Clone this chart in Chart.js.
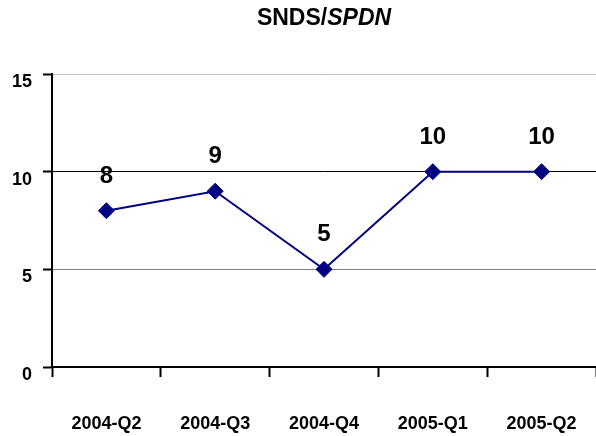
<!DOCTYPE html>
<html>
<head>
<meta charset="utf-8">
<script src="https://cdn.jsdelivr.net/npm/chart.js@4"></script>
<style>
  body { margin: 0; background: #fff; }
  canvas { display: block; }
</style>
</head>
<body>
<canvas id="sndsChart" width="596" height="436"></canvas>
<script>
// datos del gráfico
const categories = ['2004-Q2', '2004-Q3', '2004-Q4', '2005-Q1', '2005-Q2'];
const values = [8, 9, 5, 10, 10];
const yTickValues = [0, 5, 10, 15];

const navy = '#000080';
Chart.defaults.font.family = 'Arial, "Liberation Sans", sans-serif';
Chart.defaults.color = '#000';

// título con la parte "SPDN" en cursiva
const titlePlugin = {
    id: 'titleMixed',
    afterDraw(chart) {
        const ctx = chart.ctx;
        const area = chart.chartArea;
        const a = 'SNDS/', b = 'SPDN';
        ctx.save();
        ctx.fillStyle = '#000';
        ctx.textBaseline = 'alphabetic';
        ctx.font = 'bold 23px Arial, "Liberation Sans", sans-serif';
        const wa = ctx.measureText(a).width;
        ctx.font = 'italic bold 23px Arial, "Liberation Sans", sans-serif';
        const wb = ctx.measureText(b).width;
        const x0 = (area.left + area.right) / 2 - (wa + wb) / 2;
        ctx.textAlign = 'left';
        ctx.font = 'bold 23px Arial, "Liberation Sans", sans-serif';
        ctx.fillText(a, x0, 25);
        ctx.font = 'italic bold 23px Arial, "Liberation Sans", sans-serif';
        ctx.fillText(b, x0 + wa, 25);
        ctx.restore();
    }
};

// etiquetas de valor encima de cada punto
const valueLabels = {
    id: 'valueLabels',
    afterDatasetsDraw(chart) {
        const ctx = chart.ctx;
        const meta = chart.getDatasetMeta(0);
        ctx.save();
        ctx.font = 'bold 24px Arial, "Liberation Sans", sans-serif';
        ctx.fillStyle = '#000';
        ctx.textAlign = 'center';
        ctx.textBaseline = 'alphabetic';
        meta.data.forEach(function(pt, i) {
            ctx.fillText(String(values[i]), pt.x, pt.y - 28);
        });
        ctx.restore();
    }
};

const gridColors = { 5: '#808080', 10: '#000000', 15: '#c0c0c0' };

new Chart(document.getElementById('sndsChart'), {
    type: 'line',
    data: {
        labels: categories,
        datasets: [{
            data: values,
            borderColor: navy,
            borderWidth: 2,
            tension: 0,
            pointStyle: 'rectRot',
            pointRadius: 8,
            pointHoverRadius: 8,
            pointBackgroundColor: navy,
            pointBorderColor: navy,
            pointBorderWidth: 1
        }]
    },
    options: {
        responsive: false,
        animation: false,
        devicePixelRatio: 1,
        layout: { autoPadding: false, padding: { top: 74, right: 0, left: 0, bottom: 0 } },
        plugins: {
            legend: { display: false },
            tooltip: { enabled: false }
        },
        scales: {
            x: {
                offset: true,
                afterFit: function(scale) {
                    scale.height = 69;
                    scale.paddingLeft = 0;
                    scale.paddingRight = 0;
                },
                grid: {
                    offset: true,
                    drawOnChartArea: false,
                    tickLength: 10,
                    tickColor: '#000',
                    tickWidth: 2
                },
                border: { color: '#000', width: 2 },
                ticks: {
                    font: { size: 18, weight: 'bold' },
                    padding: 36,
                    maxRotation: 0,
                    autoSkip: false
                }
            },
            y: {
                min: 0,
                max: 15,
                afterFit: function(scale) { scale.width = 52; },
                afterBuildTicks: function(scale) {
                    scale.ticks = yTickValues.map(function(v) { return { value: v }; });
                },
                grid: {
                    color: function(c) {
                        return gridColors[c.tick && c.tick.value] || 'rgba(0,0,0,0)';
                    },
                    lineWidth: 1,
                    tickLength: 9,
                    tickColor: '#000',
                    tickWidth: 2
                },
                border: { color: '#000', width: 2 },
                ticks: {
                    font: { size: 18, weight: 'bold' },
                    padding: 11,
                    labelOffset: 8
                }
            }
        }
    },
    plugins: [titlePlugin, valueLabels]
});
</script>
</body>
</html>
